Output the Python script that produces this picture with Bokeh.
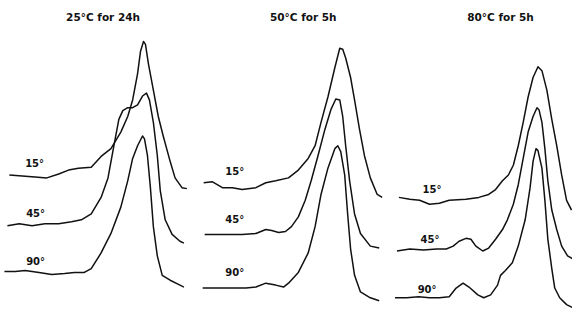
from bokeh.plotting import figure
from bokeh.models import Range1d
from bokeh.core.properties import value
from bokeh.embed import file_html
from bokeh.resources import INLINE

# Panel titles and trace labels
panel_titles = ["25°C for 24h", "50°C for 5h", "80°C for 5h"]
angle_labels = ["15°", "45°", "90°"]

# Traces: local scan position (per panel) and signal height
# panel 1: 25°C for 24h
p1_15_x = [17, 30, 43, 55, 67, 77, 87, 100, 110, 120, 130, 137, 142, 147, 150, 153, 155, 158, 163, 168, 173, 180, 185, 192, 197]
p1_15_h = [143, 142, 141, 140, 144, 148, 150, 151, 162, 170, 187, 203, 220, 247, 270, 280, 277, 257, 230, 203, 183, 157, 140, 130, 129]
p1_45_x = [15, 27, 40, 53, 67, 80, 90, 100, 110, 117, 123, 128, 132, 137, 142, 147, 152, 156, 159, 163, 167, 170, 175, 182, 190, 194]
p1_45_h = [91, 93, 91, 93, 93, 95, 97, 103, 120, 140, 173, 200, 209, 212, 212, 215, 224, 227, 220, 197, 163, 127, 97, 82, 75, 73]
p1_90_x = [12, 23, 33, 47, 60, 73, 83, 93, 100, 110, 120, 130, 137, 142, 147, 152, 154, 157, 160, 163, 167, 172, 180, 190, 194]
p1_90_h = [44, 44, 45, 43, 41, 42, 43, 43, 47, 63, 83, 110, 137, 160, 173, 183, 180, 163, 130, 90, 60, 40, 35, 30, 28]

# panel 2: 50°C for 5h
p2_15_x = [14, 23, 33, 43, 53, 67, 77, 87, 100, 110, 120, 127, 133, 140, 147, 152, 155, 158, 163, 167, 172, 177, 183, 190, 195]
p2_15_h = [135, 136, 130, 130, 128, 130, 135, 137, 140, 148, 160, 173, 197, 223, 253, 273, 272, 263, 243, 220, 190, 163, 140, 123, 120]
p2_45_x = [15, 27, 40, 53, 67, 77, 83, 90, 97, 103, 110, 117, 123, 130, 137, 143, 148, 152, 155, 158, 162, 167, 173, 183, 192]
p2_45_h = [82, 82, 82, 82, 83, 87, 86, 84, 85, 90, 100, 117, 137, 163, 190, 210, 221, 220, 203, 173, 137, 103, 83, 70, 68]
p2_90_x = [13, 27, 40, 57, 67, 77, 87, 95, 100, 110, 120, 127, 133, 140, 147, 150, 153, 157, 160, 163, 167, 173, 183, 192]
p2_90_h = [27, 27, 27, 27, 28, 32, 30, 28, 32, 43, 63, 90, 123, 150, 170, 173, 167, 143, 103, 67, 40, 23, 17, 14]

# panel 3: 80°C for 5h
p3_15_x = [12, 23, 33, 43, 53, 63, 80, 93, 103, 110, 117, 123, 128, 133, 138, 143, 148, 153, 157, 162, 167, 172, 177, 182, 187]
p3_15_h = [120, 118, 117, 113, 114, 117, 118, 120, 123, 128, 137, 143, 153, 173, 197, 223, 243, 254, 250, 230, 200, 173, 143, 117, 107]
p3_45_x = [10, 23, 37, 50, 60, 67, 73, 80, 85, 90, 97, 103, 110, 117, 122, 128, 133, 138, 143, 148, 152, 154, 157, 160, 163, 167, 172, 177, 183, 188]
p3_45_h = [65, 67, 66, 67, 67, 70, 75, 78, 77, 70, 65, 68, 77, 87, 97, 113, 133, 160, 187, 203, 212, 210, 197, 170, 137, 107, 87, 70, 60, 57]
p3_90_x = [8, 20, 32, 43, 53, 63, 70, 77, 83, 92, 98, 105, 112, 115, 120, 127, 133, 140, 145, 148, 151, 153, 157, 160, 163, 167, 170, 175, 182, 188]
p3_90_h = [17, 17, 18, 17, 17, 18, 27, 32, 28, 20, 17, 20, 30, 40, 45, 53, 70, 97, 130, 157, 170, 168, 150, 117, 77, 47, 27, 17, 10, 7]

panels = [
    [(p1_15_x, p1_15_h), (p1_45_x, p1_45_h), (p1_90_x, p1_90_h)],
    [(p2_15_x, p2_15_h), (p2_45_x, p2_45_h), (p2_90_x, p2_90_h)],
    [(p3_15_x, p3_15_h), (p3_45_x, p3_45_h), (p3_90_x, p3_90_h)],
]

# layout
PANEL_X0 = [0, 200, 400]
BASE_Y = 330
TITLE_X = [112, 115, 115]
TITLE_Y = 25
LABEL_POS = [
    [(33, 175), (34, 227), (34, 276)],
    [(36, 183), (36, 233), (36, 287)],
    [(36, 202), (34, 253), (31, 305)],
]

W, H = 572, 308
p = figure(width=W, height=H, output_backend="svg", toolbar_location=None,
           x_range=Range1d(8, 588), y_range=Range1d(324, 8),
           min_border=0)
p.axis.visible = False
p.grid.visible = False
p.outline_line_color = None
p.background_fill_color = "white"
p.border_fill_color = "white"

FONT = value("DejaVu Sans")
for k, curves in enumerate(panels):
    x0 = PANEL_X0[k]
    for xs, hs in curves:
        p.line([x0 + x for x in xs], [BASE_Y - h for h in hs],
               line_color="#111111", line_width=1.5, line_join="round")
    p.text(x=[x0 + TITLE_X[k]], y=[TITLE_Y], text=[panel_titles[k]],
           text_font=FONT, text_font_style="bold",
           text_font_size="10.5px", text_align="center", text_baseline="middle",
           text_color="#111111")
    for j, lab in enumerate(angle_labels):
        lx, ly = LABEL_POS[k][j]
        p.text(x=[x0 + lx], y=[ly], text=[lab],
               text_font=FONT, text_font_style="bold",
               text_font_size="10px", text_align="left", text_baseline="middle",
               text_color="#111111")

open("out.html", "w").write(file_html(p, INLINE))
